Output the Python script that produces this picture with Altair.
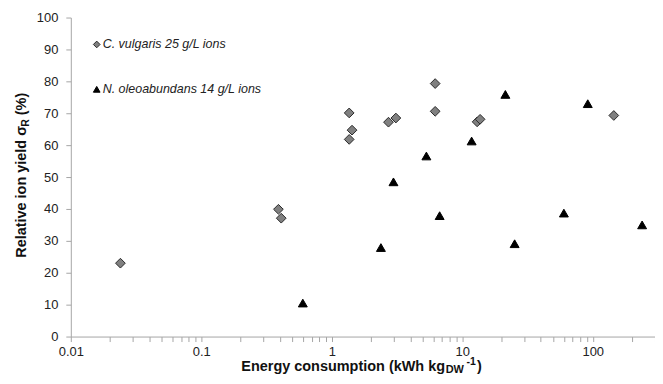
import altair as alt
import pandas as pd

# ---- data ----
series_names = ["C. vulgaris 25 g/L ions", "N. oleoabundans 14 g/L ions"]

cv_energy = [0.024, 0.39, 0.41, 1.36, 1.43, 1.36, 2.72, 3.1, 6.2, 6.2, 13.0, 13.7, 145]
cv_yield = [23.0, 39.9, 37.1, 70.1, 64.7, 61.8, 67.2, 68.5, 79.3, 70.6, 67.3, 68.1, 69.3]

no_energy = [0.60, 2.38, 2.97, 5.31, 6.71, 11.8, 21.4, 25.2, 60.1, 91.6, 239]
no_yield = [10.5, 27.9, 48.5, 56.6, 37.9, 61.3, 75.9, 29.1, 38.7, 73.0, 35.0]

x_decades = [0.01, 0.1, 1, 10, 100]
x_max = 300
y_ticks = [0, 10, 20, 30, 40, 50, 60, 70, 80, 90, 100]

x_title_parts = ["Energy consumption (kWh kg", "DW", "-1", ")"]
y_title_parts = ["Relative ion yield σ", "R", "(%)"]

# ---- build tables ----
df = pd.DataFrame({
    "energy": cv_energy + no_energy,
    "yield": cv_yield + no_yield,
    "series": [series_names[0]] * len(cv_energy) + [series_names[1]] * len(no_energy),
})
legend_df = pd.DataFrame({"series": series_names})

x_tick_values = [m * d for d in x_decades for m in range(1, 10) if m * d <= x_max + 1e-9]

FONT = "Liberation Sans"
W, H = 586, 320

shape_scale = alt.Scale(domain=series_names, range=["diamond", "triangle-up"])
fill_scale = alt.Scale(domain=series_names, range=["#808080", "#000000"])
stroke_scale = alt.Scale(domain=series_names, range=["#2a2a2a", "#000000"])

points = alt.Chart(df).mark_point(filled=True, opacity=1, strokeWidth=1).encode(
    x=alt.X(
        "energy:Q",
        scale=alt.Scale(type="log", domain=[0.01, x_max], nice=False),
        axis=alt.Axis(
            values=x_tick_values,
            labelExpr="abs(log(datum.value)/LN10 - round(log(datum.value)/LN10)) < 0.001 ? format(datum.value, '~g') : ''",
            title=None, labelOverlap=False, labelFlush=False, labelPadding=4,
        ),
    ),
    y=alt.Y(
        "yield:Q",
        scale=alt.Scale(domain=[0, 100], nice=False),
        axis=alt.Axis(values=y_ticks, title=None, labelPadding=8),
    ),
    shape=alt.Shape("series:N", scale=shape_scale, legend=None),
    fill=alt.Fill("series:N", scale=fill_scale, legend=None),
    stroke=alt.Stroke("series:N", scale=stroke_scale, legend=None),
    size=alt.Size("series:N", scale=alt.Scale(domain=series_names, range=[95, 80]), legend=None),
)

# ---- in-plot legend (Excel style) ----
legend_y = alt.Y("series:N", scale=alt.Scale(type="point", domain=series_names, range=[27, 72], padding=0), axis=None)
legend_symbols = alt.Chart(legend_df).mark_point(filled=True, opacity=1, strokeWidth=1, size=45).encode(
    x=alt.value(26),
    y=legend_y,
    shape=alt.Shape("series:N", scale=shape_scale, legend=None),
    fill=alt.Fill("series:N", scale=fill_scale, legend=None),
    stroke=alt.Stroke("series:N", scale=stroke_scale, legend=None),
)
legend_labels = alt.Chart(legend_df).mark_text(
    font=FONT, fontStyle="italic", fontSize=12.5, align="left", baseline="middle", color="#222222",
).encode(x=alt.value(32), y=legend_y, text="series:N")

# ---- composed axis titles (with sub/superscripts) ----
def piece(txt, x, y, size, angle=0):
    return alt.Chart(pd.DataFrame({"t": [txt]})).mark_text(
        font=FONT, fontWeight="bold", fontSize=size, align="left",
        baseline="alphabetic", color="#111111", angle=angle,
    ).encode(x=alt.value(x), y=alt.value(y), text="t:N")

xt0 = 171
xt = [
    piece(x_title_parts[0], xt0, 355, 14.5),
    piece(x_title_parts[1], xt0 + 205, 356.5, 11),
    piece(x_title_parts[2], xt0 + 226, 349, 10.5),
    piece(x_title_parts[3], xt0 + 236.5, 355, 14.5),
]
yt0 = 241
yt = [
    piece(y_title_parts[0], -45, yt0, 14.5, 270),
    piece(y_title_parts[1], -42, yt0 - 131.5, 10.5, 270),
    piece(y_title_parts[2], -45, yt0 - 143, 14.5, 270),
]

chart = alt.layer(points, legend_symbols, legend_labels, *xt, *yt).resolve_scale(
    y="independent"
).properties(
    width=W, height=H,
    autosize=alt.AutoSizeParams(type="none"),
    padding={"left": 63, "top": 9, "right": 0, "bottom": 39},
).configure_view(stroke=None).configure_axis(
    grid=False, domainColor="#a6a6a6", tickColor="#a6a6a6", tickSize=5,
    labelFont=FONT, labelFontSize=13, labelColor="#222222", domainWidth=1, tickWidth=1,
)

chart.save("out.html", embed_options={"renderer": "svg", "actions": False})
